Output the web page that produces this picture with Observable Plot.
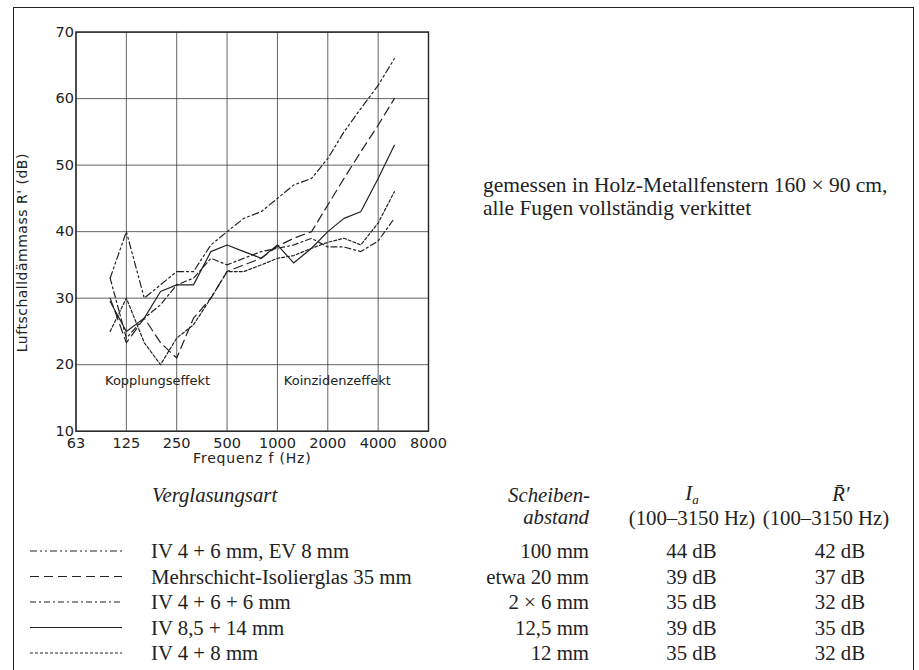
<!DOCTYPE html>
<html>
<head>
<meta charset="utf-8">
<script src="https://cdn.jsdelivr.net/npm/d3@7"></script>
<script src="https://cdn.jsdelivr.net/npm/@observablehq/plot@0.6"></script>
<style>
  html, body { margin: 0; padding: 0; background: #fff; }
  body { width: 919px; height: 670px; position: relative; overflow: hidden; }
  #frame { position: absolute; left: 13px; top: 7px; width: 901px; height: 680px; border: 1.5px solid #222; box-sizing: border-box; }
  #chart { position: absolute; left: 0; top: 0; }
  .serif { position: absolute; font-family: "Liberation Serif", serif; font-size: 20.8px; color: #222; white-space: nowrap; line-height: 1; }
  .it { font-style: italic; }
  #legend { position: absolute; left: 0; top: 0; }
</style>
</head>
<body>
<div id="frame"></div>
<div id="chart"></div>
<svg id="legend" width="919" height="670"></svg>
<script>
// Third-octave band centre frequencies (Hz)
const freqs = [100,125,160,200,250,315,400,500,630,800,1000,1250,1600,2000,2500,3150,4000,5000];
// Series: R' (dB) per band
const seriesNames = ["IV 4 + 6 mm, EV 8 mm","Mehrschicht-Isolierglas 35 mm","IV 4 + 6 + 6 mm","IV 8,5 + 14 mm","IV 4 + 8 mm"];
const sA = [33,40,30,32,34,34,38,40,42,43,45,47,48,51,55,58.5,62,66];
const sB = [30,23.3,27,23.3,21,27,30,34,35,36,37.8,39,40,44,48,52,56,60];
const sC = [33,24,27,29,32,33,36,35,36,37,37.5,38,39,37.7,37.7,37,38.6,42];
const sD = [29.5,25,27,31,32,32,37,38,37,36,38,35.3,37.5,40,42,43,48,53];
const sE = [25,30,23.3,20,24,26,30,34,34,35,36,36.4,37.5,38.4,39,38,41.3,46];
const seriesValues = [sA,sB,sC,sD,sE];
const dashes = ["7,3,2,3,2,3","9,5","6,3,2,3","none","3,2"];
// Axis ticks
const xTicks = [62.5,125,250,500,1000,2000,4000,8000];
const xTickLabels = ["63","125","250","500","1000","2000","4000","8000"];
const yTicks = [10,20,30,40,50,60,70];
// Table
const spacing = ["100 mm","etwa 20 mm","2 × 6 mm","12,5 mm","12 mm"];
const iaValues = ["44 dB","39 dB","35 dB","39 dB","35 dB"];
const rValues = ["42 dB","37 dB","32 dB","35 dB","32 dB"];

const data = [];
seriesValues.forEach((vals, si) => vals.forEach((v, i) => data.push({series: seriesNames[si], f: freqs[i], r: v})));

const sans = "'DejaVu Sans', sans-serif";
const xfmt = d => xTickLabels[xTicks.indexOf(d)];
const plot = Plot.plot({
  width: 919,
  height: 470,
  marginLeft: 75.5,
  marginRight: 491,
  marginTop: 31.6,
  marginBottom: 39.3,
  style: {fontFamily: sans, fontSize: "14px", color: "#222", background: "transparent"},
  x: {type: "log", base: 2, domain: [62.5, 8000], label: null},
  y: {domain: [10, 70], label: null},
  marks: [
    Plot.gridX(xTicks, {stroke: "#333", strokeOpacity: 0.85, strokeWidth: 0.9}),
    Plot.gridY(yTicks, {stroke: "#333", strokeOpacity: 0.85, strokeWidth: 0.9}),
    Plot.frame({stroke: "#222", strokeWidth: 1.4}),
    ...seriesNames.map((name, si) => Plot.line(data.filter(d => d.series === name), {
      x: "f", y: "r", stroke: "#222", strokeWidth: 1.2, strokeDasharray: dashes[si] === "none" ? null : dashes[si]
    })),
    Plot.text(["Kopplungseffekt"], {x: 192, y: 17.6, text: d => d, fontSize: 13, fill: "#222"}),
    Plot.text(["Koinzidenzeffekt"], {x: 2280, y: 17.6, text: d => d, fontSize: 13, fill: "#222"}),
    Plot.axisX({ticks: xTicks, tickFormat: xfmt, tickSize: 0, tickPadding: 7, fontSize: 14.5, label: null}),
    Plot.axisY({ticks: yTicks, tickSize: 0, tickPadding: 2, fontSize: 14.5, label: null}),
    Plot.text(["Frequenz f (Hz)"], {frameAnchor: "bottom", lineAnchor: "middle", dy: 27, text: d => d, fontSize: 14, fill: "#222", style: "letter-spacing:0.8px"}),
    Plot.text(["Luftschalldämmass R' (dB)"], {frameAnchor: "left", textAnchor: "middle", lineAnchor: "middle", dx: -53, dy: 21, rotate: -90, text: d => d, fontSize: 14, fill: "#222"})
  ]
});
plot.querySelectorAll("text").forEach(t => {
  if (t.textContent.startsWith("Luftschall")) t.style.letterSpacing = "0.5px";
  if (t.textContent.startsWith("Frequenz")) t.style.letterSpacing = "0.8px";
});
document.getElementById("chart").appendChild(plot);

// Right text and table (HTML text)
function addText(txt, x, y, cls, align) {
  const el = document.createElement("div");
  el.className = "serif " + (cls || "");
  el.textContent = txt;
  el.style.top = (y - 10) + "px";
  if (align === "right") { el.style.right = (919 - x) + "px"; }
  else if (align === "center") { el.style.left = x + "px"; el.style.transform = "translateX(-50%)"; }
  else { el.style.left = x + "px"; }
  document.body.appendChild(el);
  return el;
}
addText("gemessen in Holz-Metallfenstern 160 × 90 cm,", 483, 185).style.fontSize = "21.5px";
addText("alle Fugen vollständig verkittet", 483, 208).style.fontSize = "21.5px";
addText("Verglasungsart", 152, 495, "it");
addText("Scheiben-", 590, 495, "it", "right");
addText("abstand", 589, 517, "it", "right");
const ia = addText("", 692, 493, "", "center");
ia.innerHTML = "<i>I</i><i style='font-size:13px;position:relative;top:4px'>a</i>";
addText("(100–3150 Hz)", 692, 518, "", "center");
const rh = addText("", 841, 494, "it", "center");
rh.innerHTML = "<i>R̄′</i>";
addText("(100–3150 Hz)", 826, 518, "", "center");
const rowY = [551, 576.5, 602, 627.5, 653];
seriesNames.forEach((n, i) => {
  addText(n, 151, rowY[i]);
  addText(spacing[i], 589, rowY[i], "", "right");
  addText(iaValues[i], 691.5, rowY[i], "", "center");
  addText(rValues[i], 840, rowY[i], "", "center");
});
const lg = d3.select("#legend");
seriesNames.forEach((n, i) => {
  lg.append("line").attr("x1", 30).attr("x2", 122).attr("y1", rowY[i]).attr("y2", rowY[i])
    .attr("stroke", "#222").attr("stroke-width", 1.2)
    .attr("stroke-dasharray", dashes[i] === "none" ? null : dashes[i]);
});
</script>
</body>
</html>
